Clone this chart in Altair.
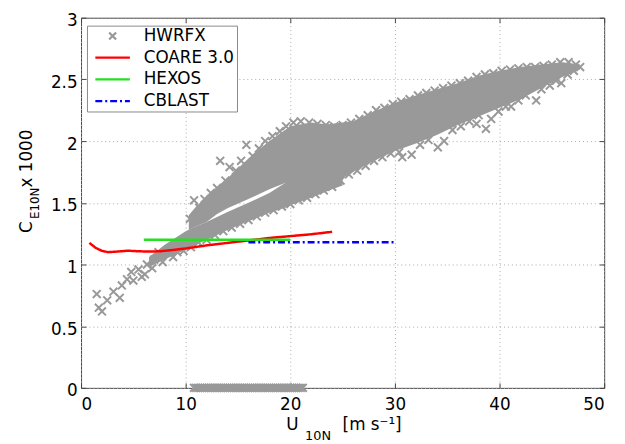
import altair as alt
import pandas as pd

FONT = "DejaVu Sans"

# ---------------- series ----------------
series_names = ["HWRFX", "COARE 3.0", "HEXOS", "CBLAST"]
series_colors = ["#999999", "#ff0000", "#22e022", "#0000ff"]

# ---------------- HWRFX dense core (edges of the grey cloud) ----------------
lower_branch_x = [6.5, 8, 10, 11, 12, 13, 14, 16, 18, 19.5, 20, 22, 24, 25]
lower_branch_lo = [0.98, 1.04, 1.12, 1.16, 1.20, 1.24, 1.28, 1.35, 1.42, 1.46, 1.48, 1.54, 1.61, 1.64]
lower_branch_hi = [1.06, 1.16, 1.27, 1.31, 1.345, 1.385, 1.425, 1.50, 1.58, 1.66, 1.70, 1.80, 1.90, 1.95]

upper_branch_x = [10.3, 11, 12, 13, 14, 16, 18, 19.5, 20, 22, 24, 25]
upper_branch_lo = [1.28, 1.31, 1.345, 1.41, 1.455, 1.53, 1.61, 1.66, 1.68, 1.78, 1.86, 1.90]
upper_branch_hi = [1.40, 1.47, 1.55, 1.62, 1.70, 1.86, 2.00, 2.09, 2.12, 2.15, 2.13, 2.13]

main_band_x = [23, 26, 28, 30, 32, 34, 36, 38, 40, 42, 44, 46, 47.7]
main_band_lo = [1.60, 1.75, 1.84, 1.92, 1.98, 2.05, 2.13, 2.20, 2.27, 2.34, 2.43, 2.52, 2.58]
main_band_hi = [2.13, 2.16, 2.24, 2.31, 2.37, 2.42, 2.47, 2.53, 2.57, 2.60, 2.62, 2.64, 2.62]

# ---------------- HWRFX individual crosses (ragged edges, outliers) ----------------
hwrfx_x = [
    # low-wind tail
    1.5, 1.7, 2.0, 2.5, 3.1, 3.7, 3.9, 4.4, 4.8, 5.0, 5.5, 5.8, 6.1, 6.3, 6.8, 7.0, 7.4, 7.8, 8.3, 8.8,
    # upper branch top edge
    10.4, 10.8, 11.3, 11.8, 12.4, 13.0, 13.3, 13.8, 14.2, 14.8, 15.3, 15.8, 16.4, 17.0, 17.6, 18.3,
    19.0, 19.6, 20.3, 21.0, 21.8, 22.6, 23.4, 24.2, 25.0, 25.8,
    # main band top edge
    26.6, 27.4, 28.2, 29.0, 29.8, 30.6, 31.4, 32.2, 33.0, 33.8, 34.6, 35.4, 36.2, 37.0, 37.8, 38.6,
    39.4, 40.2, 41.0, 41.8, 42.6, 43.4, 44.2, 45.0, 45.8, 46.6, 47.3, 47.7,
    # lower branch bottom edge
    9.2, 9.8, 10.5, 11.2, 12.0, 12.8, 13.6, 14.4, 15.2, 16.0, 16.8, 17.6, 18.4, 19.2, 20.0, 20.8,
    21.6, 22.4, 23.2, 24.0,
    # main band bottom edge and outliers
    24.8, 25.6, 26.4, 27.2, 28.0, 28.8, 29.6, 30.4, 30.7, 31.6, 32.4, 33.2, 34.1, 34.7, 35.5, 36.3,
    37.1, 37.8, 38.0, 38.7, 39.2, 39.9, 40.6, 41.1, 41.8, 42.5, 43.5, 44.0, 44.8, 45.4, 45.9, 46.5, 47.1,
    # zero strip
    10.8, 11.0, 11.2, 11.4, 11.6, 11.8, 12.0, 12.2, 12.4, 12.6, 12.8, 13.0, 13.2, 13.4, 13.6, 13.8,
    14.0, 14.2, 14.4, 14.6, 14.8, 15.0, 15.2, 15.4, 15.6, 15.8, 16.0, 16.2, 16.4, 16.6, 16.8, 17.0,
    17.2, 17.4, 17.6, 17.8, 18.0, 18.2, 18.4, 18.6, 18.8, 19.0, 19.2, 19.4, 19.6, 19.8, 20.0, 20.2,
    20.4, 20.6, 20.8, 21.0, 21.2,
]
hwrfx_y = [
    0.76, 0.65, 0.62, 0.71, 0.78, 0.73, 0.83, 0.88, 0.94, 0.87, 0.96, 0.90, 0.92, 1.00, 0.97, 1.04, 1.10, 1.02, 1.12, 1.06,
    1.37, 1.52, 1.46, 1.53, 1.58, 1.62, 1.84, 1.68, 1.79, 1.76, 1.84, 1.97, 1.88, 1.94, 2.00, 2.04,
    2.08, 2.12, 2.15, 2.16, 2.15, 2.14, 2.13, 2.12, 2.13, 2.15,
    2.18, 2.21, 2.25, 2.27, 2.30, 2.32, 2.34, 2.37, 2.39, 2.41, 2.43, 2.45, 2.47, 2.49, 2.52, 2.54,
    2.55, 2.57, 2.58, 2.59, 2.60, 2.60, 2.61, 2.62, 2.64, 2.64, 2.62, 2.60,
    1.10, 1.11, 1.14, 1.18, 1.20, 1.24, 1.27, 1.30, 1.33, 1.36, 1.39, 1.42, 1.44, 1.47, 1.49, 1.52,
    1.54, 1.57, 1.60, 1.63,
    1.68, 1.73, 1.76, 1.80, 1.84, 1.87, 1.90, 1.91, 1.87, 1.89, 1.97, 2.01, 1.95, 2.00, 2.09, 2.12,
    2.16, 2.14, 2.21, 2.10, 2.18, 2.24, 2.28, 2.28, 2.33, 2.37, 2.33, 2.42, 2.45, 2.49, 2.47, 2.54, 2.57,
    0.0, 0.0, 0.0, 0.0, 0.0, 0.0, 0.0, 0.0, 0.0, 0.0, 0.0, 0.0, 0.0, 0.0, 0.0, 0.0,
    0.0, 0.0, 0.0, 0.0, 0.0, 0.0, 0.0, 0.0, 0.0, 0.0, 0.0, 0.0, 0.0, 0.0, 0.0, 0.0,
    0.0, 0.0, 0.0, 0.0, 0.0, 0.0, 0.0, 0.0, 0.0, 0.0, 0.0, 0.0, 0.0, 0.0, 0.0, 0.0,
    0.0, 0.0, 0.0, 0.0, 0.0,
]

# ---------------- parameterisations ----------------
coare_x = [0.8, 1.4, 2.0, 2.6, 3.5, 4.5, 5.5, 6.5, 7.5, 8.5, 10, 12, 14, 16, 18, 20, 22, 24]
coare_y = [1.175, 1.135, 1.11, 1.10, 1.105, 1.112, 1.107, 1.105, 1.107, 1.115, 1.13, 1.155,
           1.175, 1.195, 1.215, 1.23, 1.245, 1.265]
hexos_x = [6, 20]
hexos_y = [1.2, 1.2]
cblast_x = [16, 30]
cblast_y = [1.18, 1.18]

x_ticks = [0, 10, 20, 30, 40, 50]
y_ticks = [0, 0.5, 1, 1.5, 2, 2.5, 3]

# ---------------- tables ----------------
df_area = pd.concat([
    pd.DataFrame({"x": lower_branch_x, "lo": lower_branch_lo, "hi": lower_branch_hi, "band": "L"}),
    pd.DataFrame({"x": upper_branch_x, "lo": upper_branch_lo, "hi": upper_branch_hi, "band": "U"}),
    pd.DataFrame({"x": main_band_x, "lo": main_band_lo, "hi": main_band_hi, "band": "M"}),
], ignore_index=True)
df_pts = pd.DataFrame({"x": hwrfx_x, "y": hwrfx_y, "series": "HWRFX"})
df_lines = pd.concat([
    pd.DataFrame({"x": coare_x, "y": coare_y, "series": "COARE 3.0"}),
    pd.DataFrame({"x": hexos_x, "y": hexos_y, "series": "HEXOS"}),
    pd.DataFrame({"x": cblast_x, "y": cblast_y, "series": "CBLAST"}),
], ignore_index=True)

# ---------------- scales / axes / legend ----------------
x_scale = alt.Scale(domain=[0, 50], nice=False, zero=False)
y_scale = alt.Scale(domain=[0, 3], nice=False, zero=False)
X_PATH = "M-0.5,-0.5L0.5,0.5M-0.5,0.5L0.5,-0.5"
LINE_PATH = "M-2.5,0L2.5,0"
color_scale = alt.Scale(domain=series_names, range=series_colors)
shape_scale = alt.Scale(domain=series_names, range=[X_PATH, LINE_PATH, LINE_PATH, LINE_PATH])
dash_scale = alt.Scale(domain=series_names, range=[[1, 0], [1, 0], [1, 0], [7, 3, 2, 3]])

legend = alt.Legend(
    title=None, orient="none", legendX=6, legendY=8, direction="vertical",
    symbolSize=196, symbolStrokeWidth=2.2, symbolOffset=15.5, labelOffset=23,
    labelFont=FONT, labelFontSize=17, labelColor="black", padding=2, rowPadding=4,
    strokeColor="#888888", fillColor="white",
)

grid_style = dict(grid=True, gridDash=[1, 3], gridColor="#aaaaaa", gridWidth=1,
                  domain=False, ticks=False, labelFont=FONT, labelFontSize=17,
                  labelColor="black", title=None)
ax_x = alt.Axis(values=x_ticks, orient="bottom", labelPadding=9, **grid_style)
ax_y = alt.Axis(values=y_ticks, orient="left", format="~g", labelPadding=4, labelOffset=3, **grid_style)

tick_style = dict(offset=-5, tickSize=5, tickColor="#444444", tickWidth=1, labels=False,
                  domain=False, grid=False, title=None)
tk_bottom = alt.Axis(values=x_ticks, orient="bottom", **tick_style)
tk_top = alt.Axis(values=x_ticks, orient="top", **tick_style)
tk_left = alt.Axis(values=y_ticks, orient="left", **tick_style)
tk_right = alt.Axis(values=y_ticks, orient="right", **tick_style)

# ---------------- layers ----------------
areas = alt.Chart(df_area).mark_area(color="#999999", opacity=1).encode(
    x=alt.X("x:Q", scale=x_scale, axis=ax_x),
    y=alt.Y("lo:Q", scale=y_scale, axis=ax_y),
    y2="hi:Q",
    detail="band:N",
)

points = alt.Chart(df_pts).mark_point(filled=False, size=256, strokeWidth=2, opacity=1).encode(
    x=alt.X("x:Q", scale=x_scale, axis=tk_bottom),
    y=alt.Y("y:Q", scale=y_scale, axis=tk_left),
    color=alt.Color("series:N", scale=color_scale, legend=legend),
    shape=alt.Shape("series:N", scale=shape_scale, legend=legend),
)

lines = alt.Chart(df_lines).mark_line(strokeWidth=2.5).encode(
    x=alt.X("x:Q", scale=x_scale, axis=tk_top),
    y=alt.Y("y:Q", scale=y_scale, axis=tk_right),
    color=alt.Color("series:N", scale=color_scale, legend=legend),
    strokeDash=alt.StrokeDash("series:N", scale=dash_scale, legend=legend),
)

one = pd.DataFrame({"k": [0]})


def label(text, x, y, size=17, angle=0):
    return alt.Chart(one).mark_text(
        text=text, font=FONT, fontSize=size, align="left", baseline="alphabetic",
        color="black", angle=angle,
    ).encode(x=alt.value(x), y=alt.value(y))


titles = [
    label("U", 208, 418),
    label("10N", 227, 428, size=13),
    label("[m s\u207b\u00b9]", 265, 418),
    label("C", -50, 218, angle=270),
    label("E10N", -43, 204, size=12, angle=270),
    label("x 1000", -50, 172, angle=270),
]

chart = alt.layer(areas, points, lines, *titles).resolve_axis(
    x="independent", y="independent"
).properties(
    width=530, height=375, autosize="none",
    padding={"left": 74, "top": 7, "right": 13, "bottom": 54},
    background="white",
).configure_view(stroke="#444444", strokeWidth=1)

chart.save("out.html", embed_options={"renderer": "svg", "actions": False})
